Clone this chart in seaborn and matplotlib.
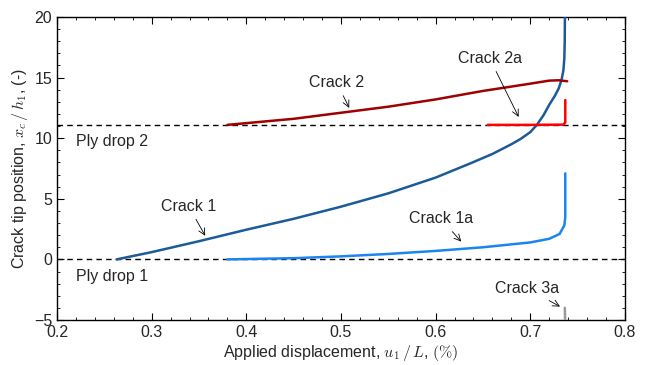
import matplotlib
matplotlib.use("Agg")
import matplotlib.pyplot as plt
import seaborn as sns
import pandas as pd
from matplotlib.ticker import MultipleLocator

# ---- data ----
crack1_x = [0.263, 0.30, 0.35, 0.40, 0.45, 0.50, 0.55, 0.60, 0.636, 0.66, 0.68, 0.69, 0.70, 0.707, 0.714, 0.72, 0.726, 0.73, 0.733, 0.735, 0.736, 0.7364, 0.7366]
crack1_y = [0.0, 0.6, 1.5, 2.45, 3.35, 4.35, 5.45, 6.75, 7.9, 8.7, 9.5, 9.95, 10.5, 11.1, 11.9, 12.75, 13.5, 14.1, 14.8, 15.6, 16.6, 18.0, 20.0]

crack1a_x = [0.38, 0.45, 0.50, 0.55, 0.60, 0.65, 0.70, 0.72, 0.731, 0.7345, 0.736, 0.737, 0.737]
crack1a_y = [0.0, 0.1, 0.25, 0.45, 0.7, 1.0, 1.4, 1.7, 2.1, 2.6, 2.8, 3.5, 7.1]

crack2_x = [0.38, 0.45, 0.50, 0.55, 0.60, 0.65, 0.70, 0.72, 0.73, 0.739]
crack2_y = [11.1, 11.6, 12.1, 12.6, 13.2, 13.9, 14.5, 14.75, 14.78, 14.7]

crack2a_x = [0.655, 0.70, 0.735, 0.737, 0.737]
crack2a_y = [11.1, 11.1, 11.12, 11.3, 13.15]

crack3a_x = [0.7365, 0.7368]
crack3a_y = [-4.0, -5.0]

ply_drop_y = [0.0, 11.1]
ply_drop_labels = ["Ply drop 1", "Ply drop 2"]

xticks = [0.2, 0.3, 0.4, 0.5, 0.6, 0.7, 0.8]
yticks = [-5, 0, 5, 10, 15, 20]

sns.set_style("ticks")
plt.rcParams["font.family"] = ["Liberation Sans", "DejaVu Sans"]
plt.rcParams["mathtext.fontset"] = "cm"
plt.rcParams["font.size"] = 11.5

fig = plt.figure(figsize=(6.53, 3.65), dpi=100)
ax = fig.add_axes([0.0873, 0.1233, 0.8697, 0.8301])

for yv in ply_drop_y:
    ax.axhline(yv, color="black", ls=(0, (4, 3)), lw=1.0, zorder=1)

series = [
    (crack1_x, crack1_y, "#1c5a98"),
    (crack1a_x, crack1a_y, "#1a85f0"),
    (crack2_x, crack2_y, "#a00000"),
    (crack2a_x, crack2a_y, "#ff0000"),
    (crack3a_x, crack3a_y, "#999999"),
]
for xs, ys, c in series:
    df = pd.DataFrame({"x": xs, "y": ys})
    sns.lineplot(data=df, x="x", y="y", sort=False, estimator=None, color=c, lw=1.8, ax=ax, zorder=3)

ax.set_xlim(0.2, 0.8)
ax.set_ylim(-5, 20)
ax.set_xticks(xticks)
ax.set_yticks(yticks)
ax.set_xticklabels([f"{v:.1f}" for v in xticks])
ax.set_yticklabels(["\u22125" if v < 0 else str(v) for v in yticks])
ax.xaxis.set_minor_locator(MultipleLocator(0.02))
ax.yaxis.set_minor_locator(MultipleLocator(1))
ax.tick_params(which="both", direction="in", top=True, right=True, labelsize=11.5, color="black")
ax.tick_params(which="major", length=5, width=0.8)
ax.tick_params(which="minor", length=2.5, width=0.6)
for s in ax.spines.values():
    s.set_color("black")
    s.set_linewidth(1.0)

ax.set_xlabel(r"Applied displacement, $u_1\,/\,L$, $(\%)$", fontsize=11.5, labelpad=2)
ax.set_ylabel(r"Crack tip position, $x_c\,/\,h_1$, (-)", fontsize=11.5)
ax.yaxis.set_label_coords(-0.048, 0.5)

ax.text(0.22, 9.7, ply_drop_labels[1], ha="left", va="center", fontsize=11.5)
ax.text(0.22, -1.45, ply_drop_labels[0], ha="left", va="center", fontsize=11.5)

ann = dict(arrowprops=dict(arrowstyle="->", color="black", lw=0.6), ha="center", va="center", fontsize=11.5)
ax.annotate("Crack 2", xy=(0.51, 12.3), xytext=(0.4955, 14.6), **ann)
ax.annotate("Crack 2a", xy=(0.689, 11.55), xytext=(0.657, 16.6), **ann)
ax.annotate("Crack 1", xy=(0.358, 1.75), xytext=(0.339, 4.4), **ann)
ax.annotate("Crack 1a", xy=(0.629, 1.3), xytext=(0.6055, 3.35), **ann)
ax.annotate("Crack 3a", xy=(0.734, -4.0), xytext=(0.6965, -2.4), **ann)

fig.savefig("out.png", dpi=100)
